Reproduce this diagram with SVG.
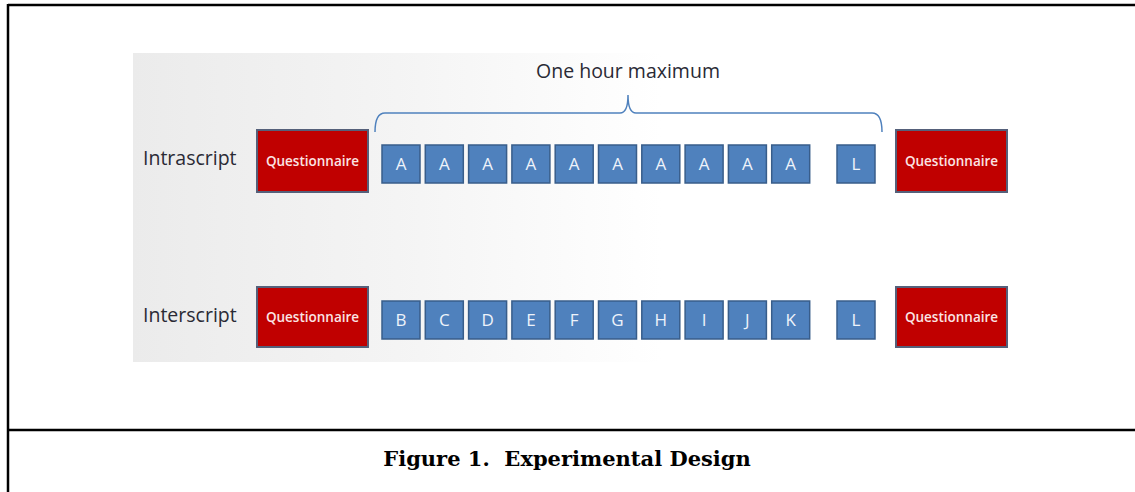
<svg xmlns="http://www.w3.org/2000/svg" width="1135" height="492" viewBox="0 0 1135 492">
  <defs>
    <linearGradient id="bg" x1="0" y1="0" x2="1" y2="0">
      <stop offset="0" stop-color="#ebebeb"/>
      <stop offset="0.3" stop-color="#f4f4f4"/>
      <stop offset="0.6" stop-color="#ffffff"/>
    </linearGradient>
  </defs>
  <style>
    .frame { stroke: #000; stroke-width: 2.5; fill: none; }
    .q rect { fill: #c00000; stroke: #55607a; stroke-width: 2; }
    .q text { font-family: "Open Sans", "Liberation Sans", sans-serif; font-size: 13.5px; font-weight: 600; fill: #fbe4e4; text-anchor: middle; }
    .b rect { fill: #4f81bd; stroke: #385d8a; stroke-width: 1.5; }
    .b text { font-family: "Open Sans", "Liberation Sans", sans-serif; font-size: 17px; fill: #eef3fa; text-anchor: middle; }
    .lbl { font-family: "Open Sans", "Liberation Sans", sans-serif; font-size: 19.5px; fill: #2a2a35; }
    .brace { fill: none; stroke: #4f81bd; stroke-width: 1.5; }
    .cap { font-family: "DejaVu Serif", "Liberation Serif", serif; font-weight: bold; font-size: 21px; fill: #000; text-anchor: middle; white-space: pre; }
  </style>

  <rect width="1135" height="492" fill="#ffffff"/>
  <g id="frame">
    <line class="frame" x1="8" y1="5" x2="1135" y2="5"/>
    <line class="frame" x1="8" y1="4" x2="8" y2="492"/>
    <line class="frame" x1="8" y1="430" x2="1135" y2="430"/>
  </g>

  <rect x="133" y="53" width="880" height="309" fill="url(#bg)"/>

  <g id="label-intrascript"><text class="lbl" x="143" y="165">Intrascript</text></g>
  <g id="label-interscript"><text class="lbl" x="143" y="322">Interscript</text></g>
  <g id="label-onehour"><text class="lbl" x="628" y="78" text-anchor="middle">One hour maximum</text></g>

  <g id="connectors">
    <path class="brace" d="M375,132 Q375,113 385,113 L620,113 Q628,113 628,95 Q628,113 636,113 L872,113 Q882,113 882,132"/>
  </g>

  <g id="q1-left" class="q"><rect x="257" y="130" width="111" height="62"/><text x="312.5" y="166">Questionnaire</text></g>
  <g id="a1" class="b"><rect x="382" y="145" width="38" height="38"/><text x="401" y="170">A</text></g>
  <g id="a2" class="b"><rect x="425.3" y="145" width="38" height="38"/><text x="444.3" y="170">A</text></g>
  <g id="a3" class="b"><rect x="468.6" y="145" width="38" height="38"/><text x="487.6" y="170">A</text></g>
  <g id="a4" class="b"><rect x="511.9" y="145" width="38" height="38"/><text x="530.9" y="170">A</text></g>
  <g id="a5" class="b"><rect x="555.2" y="145" width="38" height="38"/><text x="574.2" y="170">A</text></g>
  <g id="a6" class="b"><rect x="598.5" y="145" width="38" height="38"/><text x="617.5" y="170">A</text></g>
  <g id="a7" class="b"><rect x="641.8" y="145" width="38" height="38"/><text x="660.8" y="170">A</text></g>
  <g id="a8" class="b"><rect x="685.1" y="145" width="38" height="38"/><text x="704.1" y="170">A</text></g>
  <g id="a9" class="b"><rect x="728.4" y="145" width="38" height="38"/><text x="747.4" y="170">A</text></g>
  <g id="a10" class="b"><rect x="771.7" y="145" width="38" height="38"/><text x="790.7" y="170">A</text></g>
  <g id="l1" class="b"><rect x="837" y="145" width="38" height="38"/><text x="856" y="170">L</text></g>
  <g id="q1-right" class="q"><rect x="896" y="130" width="111" height="62"/><text x="951.5" y="166">Questionnaire</text></g>

  <g id="q2-left" class="q"><rect x="257" y="287" width="111" height="60"/><text x="312.5" y="322">Questionnaire</text></g>
  <g id="b" class="b"><rect x="382" y="301" width="38" height="38"/><text x="401" y="326">B</text></g>
  <g id="c" class="b"><rect x="425.3" y="301" width="38" height="38"/><text x="444.3" y="326">C</text></g>
  <g id="d" class="b"><rect x="468.6" y="301" width="38" height="38"/><text x="487.6" y="326">D</text></g>
  <g id="e" class="b"><rect x="511.9" y="301" width="38" height="38"/><text x="530.9" y="326">E</text></g>
  <g id="f" class="b"><rect x="555.2" y="301" width="38" height="38"/><text x="574.2" y="326">F</text></g>
  <g id="g" class="b"><rect x="598.5" y="301" width="38" height="38"/><text x="617.5" y="326">G</text></g>
  <g id="h" class="b"><rect x="641.8" y="301" width="38" height="38"/><text x="660.8" y="326">H</text></g>
  <g id="i" class="b"><rect x="685.1" y="301" width="38" height="38"/><text x="704.1" y="326">I</text></g>
  <g id="j" class="b"><rect x="728.4" y="301" width="38" height="38"/><text x="747.4" y="326">J</text></g>
  <g id="k" class="b"><rect x="771.7" y="301" width="38" height="38"/><text x="790.7" y="326">K</text></g>
  <g id="l2" class="b"><rect x="837" y="301" width="38" height="38"/><text x="856" y="326">L</text></g>
  <g id="q2-right" class="q"><rect x="896" y="287" width="111" height="60"/><text x="951.5" y="322">Questionnaire</text></g>

  <g id="caption"><text class="cap" x="567" y="466" xml:space="preserve">Figure 1.  Experimental Design</text></g>
</svg>
